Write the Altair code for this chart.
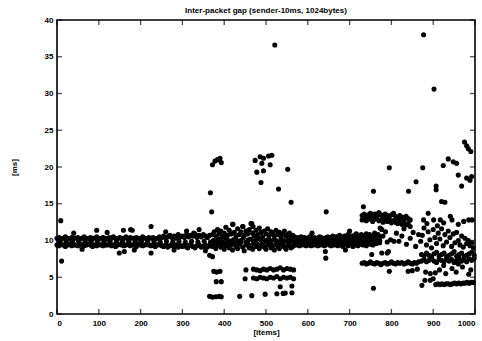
import altair as alt
import pandas as pd

# ---------------- data ----------------
# dense band, packets 0-370 (every 5th packet)
band_a_x = list(range(0, 370, 5))
band_a_lo = [9.4, 9.3, 9.5, 9.4, 9.2, 9.4, 9.5, 9.3, 9.4, 9.4,
             9.3, 9.5, 9.4, 9.3, 9.4, 9.5, 9.4, 9.2, 9.4, 9.3,
             9.5, 9.4, 9.3, 9.4, 9.4, 9.5, 9.3, 9.4, 9.2, 9.4,
             9.5, 9.4, 9.3, 9.4, 9.5, 9.3, 9.4, 9.4, 9.2, 9.5,
             9.4, 9.3, 9.4, 9.5, 9.4, 9.3, 9.4, 9.2, 9.4, 9.5,
             9.3, 9.2, 9.4, 9.1, 9.3, 9.5, 9.2, 9.4, 9.1, 9.3,
             9.2, 9.4, 9.1, 9.3, 9.5, 9.2, 9.0, 9.3, 9.4, 9.1,
             9.2, 9.4, 9.1, 9.3]
band_a_hi = [10.3, 10.4, 10.2, 10.3, 10.5, 10.3, 10.2, 10.4, 10.3, 10.3,
             10.4, 10.2, 10.3, 10.5, 10.3, 10.2, 10.4, 10.3, 10.3, 10.5,
             10.2, 10.3, 10.4, 10.3, 10.2, 10.4, 10.3, 10.5, 10.3, 10.2,
             10.4, 10.3, 10.3, 10.5, 10.2, 10.4, 10.3, 10.3, 10.4, 10.2,
             10.3, 10.5, 10.3, 10.2, 10.4, 10.3, 10.4, 10.2, 10.3, 10.5,
             10.4, 10.6, 10.3, 10.5, 10.7, 10.4, 10.6, 10.3, 10.8, 10.5,
             10.6, 10.4, 10.8, 10.5, 10.7, 10.6, 10.9, 10.4, 10.7, 10.5,
             10.8, 10.6, 10.4, 10.7]
band_a_mid_x = list(range(7, 370, 15))
band_a_mid = [9.8, 9.9, 9.8, 9.9, 9.8, 9.85, 9.9, 9.8, 9.9, 9.8, 9.9, 9.8, 9.85,
              9.9, 9.8, 9.9, 9.8, 9.9, 9.8, 9.9, 9.8, 9.9, 9.8, 9.9, 9.8]
out_a_x = [9, 11, 40, 60, 95, 120, 149, 159, 161, 176, 180, 185, 225, 225,
           260, 280, 310, 313, 327, 340, 355]
out_a_y = [12.7, 7.2, 11.0, 8.8, 11.4, 11.1, 8.3, 11.4, 8.5, 11.5, 11.4, 8.7,
           11.9, 8.3, 11.2, 8.7, 11.3, 9.0, 11.0, 11.5, 8.6]

# scattered cloud, packets 370-570
cloud_b_x = list(range(372, 570, 4))
cloud_b_hi = [10.8, 11.2, 10.6, 11.5, 10.9, 11.3, 10.5, 11.0, 11.8, 10.7,
              11.4, 10.9, 12.2, 11.1, 10.6, 11.6, 10.8, 11.2, 11.9, 10.7,
              11.3, 10.9, 11.5, 12.3, 11.0, 10.6, 11.4, 10.8, 11.7, 11.1,
              10.5, 11.3, 10.9, 11.6, 10.7, 11.2, 11.0, 10.6, 11.4, 10.8,
              11.1, 10.5, 10.9, 11.3, 10.6, 10.8, 11.0, 10.4, 10.7, 10.5]
cloud_b_lo = [9.2, 9.6, 8.9, 9.4, 9.8, 9.1, 9.5, 8.8, 9.3, 9.7,
              9.0, 9.4, 8.7, 9.6, 9.2, 8.9, 9.5, 9.8, 9.1, 8.6,
              9.4, 9.7, 9.0, 9.3, 8.8, 9.6, 9.2, 9.5, 8.9, 9.3,
              9.7, 9.1, 8.8, 9.4, 9.6, 9.0, 9.3, 8.7, 9.5, 9.2,
              8.9, 9.6, 9.4, 9.1, 8.8, 9.3, 9.5, 9.0, 9.2, 9.4]
cloud_b_mid_x = list(range(374, 570, 6))
cloud_b_mid = [10.0, 9.9, 10.2, 10.1, 9.8, 10.3, 10.0, 9.9, 10.1, 10.2,
               9.9, 10.0, 10.4, 9.8, 10.1, 10.2, 9.9, 10.0, 10.3, 10.1,
               9.8, 10.0, 10.2, 9.9, 10.1, 10.0, 9.8, 10.2, 10.0, 9.9,
               10.1, 10.0, 9.9]
row6_x = [375, 382, 390, 452, 470, 478, 486, 494, 502, 510, 518, 526, 534,
          542, 550, 558, 566]
row6_y = [5.8, 5.7, 5.8, 6.0, 6.1, 6.0, 5.9, 6.1, 6.0, 6.2, 6.0, 6.1, 6.3,
          6.0, 6.2, 6.1, 6.0]
row5_x = [381, 393, 450, 470, 478, 486, 494, 502, 510, 518, 526, 534, 542,
          550, 558, 566]
row5_y = [4.4, 4.4, 4.8, 4.9, 4.8, 5.0, 4.9, 4.8, 5.0, 4.9, 5.1, 4.8, 5.0,
          4.9, 5.0, 4.8]
low_b_x = [365, 372, 380, 388, 393, 437, 466, 498, 526, 541, 546, 562, 534,
           562, 365, 372]
low_b_y = [2.4, 2.3, 2.35, 2.4, 2.35, 2.4, 2.5, 2.7, 2.75, 2.8, 2.85, 2.9,
           3.7, 3.8, 8.0, 7.8]
up_b_x = [367, 370, 372, 378, 384, 390, 393, 421, 445, 466, 469, 474, 478,
          486, 488, 490, 494, 494, 506, 510, 514, 521, 530, 552, 560]
up_b_y = [16.5, 13.9, 20.3, 20.8, 21.0, 21.2, 20.6, 12.2, 11.9, 12.3, 11.9,
          20.9, 19.3, 21.4, 17.9, 20.5, 21.2, 19.5, 21.5, 20.3, 21.6, 36.6,
          17.0, 19.7, 15.2]

# dense band, packets 570-775
band_c_x = list(range(572, 775, 4))
band_c_hi = [10.3, 10.4, 10.2, 10.5, 10.3, 10.4, 10.3, 10.2, 10.5, 10.4,
             10.3, 10.4, 10.2, 10.3, 10.5, 10.4, 10.3, 10.2, 10.4, 10.5,
             10.3, 10.4, 10.6, 10.3, 10.5, 10.4, 10.7, 10.5, 10.3, 10.6,
             10.4, 10.8, 10.5, 10.6, 10.4, 10.7, 10.9, 10.5, 10.6, 10.8,
             10.4, 10.7, 10.9, 10.6, 10.8, 10.5, 10.7, 11.0, 10.6, 10.8, 10.5]
band_c_lo = [9.4, 9.5, 9.3, 9.4, 9.6, 9.4, 9.3, 9.5, 9.4, 9.3,
             9.5, 9.4, 9.6, 9.3, 9.4, 9.5, 9.4, 9.3, 9.5, 9.6,
             9.4, 9.3, 9.5, 9.4, 9.6, 9.3, 9.5, 9.4, 9.2, 9.5,
             9.6, 9.3, 9.4, 9.5, 9.2, 9.6, 9.4, 9.3, 9.5, 9.7,
             9.4, 9.6, 9.3, 9.8, 9.5, 9.7, 9.4, 9.9, 9.6, 10.0, 9.7]
band_c_mid = [9.9, 9.8, 9.9, 10.0, 9.8, 9.9, 9.9, 9.8, 10.0, 9.9,
              9.8, 9.9, 10.0, 9.9, 9.8, 9.9, 9.9, 10.0, 9.8, 9.9,
              9.9, 9.8, 10.0, 9.9, 9.9, 9.8, 10.0, 9.9, 9.9, 10.1,
              9.9, 9.8, 10.0, 9.9, 10.1, 9.9, 10.0, 10.2, 9.9, 10.1,
              10.0, 10.2, 9.9, 10.1, 10.3, 10.0, 10.2, 10.1, 10.3, 10.2, 10.0]
out_c_x = [610, 642, 643, 644, 690, 700]
out_c_y = [11.0, 8.5, 7.6, 13.9, 8.7, 11.3]

# right part, packets 730-1000
band_d_x = list(range(730, 850, 5))
band_d_hi = [13.4, 13.6, 13.2, 13.5, 13.7, 13.3, 13.6, 13.4, 13.8, 13.5,
             13.3, 13.6, 13.4, 13.2, 13.5, 13.7, 13.3, 13.1, 13.4, 13.2,
             12.9, 13.3, 13.0, 12.8]
band_d_lo = [12.8, 13.0, 12.7, 12.9, 13.1, 12.6, 12.9, 13.0, 12.7, 12.8,
             12.5, 12.9, 12.6, 12.8, 12.4, 12.7, 12.5, 12.3, 12.6, 12.2,
             12.4, 12.1, 12.3, 11.9]
row7_x = list(range(730, 870, 5))
row7_y = [6.9, 7.0, 6.8, 6.9, 7.1, 6.9, 6.8, 7.0, 6.9, 6.7, 6.9, 7.0, 6.8,
          6.9, 7.1, 6.9, 6.8, 7.0, 6.9, 7.0, 6.8, 6.9, 7.1, 6.9, 6.8, 7.0,
          6.9, 7.1]
row_e_x = list(range(872, 1000, 6))
row_e_lo = [7.2, 7.4, 7.1, 7.3, 7.5, 7.2, 7.0, 7.4, 7.3, 7.1, 7.5, 7.2,
            7.4, 7.0, 7.3, 7.6, 7.2, 7.4, 7.1, 7.5, 7.3, 7.6]
row_e_hi = [8.1, 7.9, 8.3, 8.0, 7.8, 8.2, 8.4, 7.9, 8.1, 8.3, 7.8, 8.0,
            8.2, 8.5, 7.9, 8.1, 8.3, 7.8, 8.0, 8.2, 8.4, 8.0]
row4_x = list(range(906, 1000, 5))
row4_y = [4.0, 4.1, 4.0, 4.1, 4.0, 4.1, 4.1, 4.0, 4.1, 4.2, 4.1, 4.2, 4.1,
          4.2, 4.2, 4.3, 4.2, 4.3, 4.3]
mid_d_x = [780, 786, 790, 798, 806, 812, 818, 825, 830, 836, 845, 852, 858,
           865, 870, 874, 878, 884, 888, 892, 896, 900, 904, 908, 912, 916,
           920, 924, 928, 932, 936, 940, 944, 948, 952, 956, 960, 964, 968,
           972, 976, 980, 984, 988, 992, 996, 790, 777, 753, 793, 777, 773,
           766, 877, 901, 917, 925, 941, 945, 973, 985, 993, 960, 885, 910]
mid_d_y = [10.6, 11.2, 9.8, 10.1, 9.9, 11.0, 9.9, 10.6, 11.6, 9.5, 10.3,
           11.1, 9.2, 10.8, 9.9, 10.7, 11.7, 9.4, 11.2, 10.1, 9.0, 11.5, 10.4,
           9.6, 11.0, 10.2, 11.6, 9.3, 10.8, 9.8, 11.3, 10.4, 9.2, 10.9, 9.7,
           11.1, 10.0, 9.4, 10.6, 9.1, 10.3, 9.6, 10.0, 9.3, 9.7, 9.0, 8.3,
           8.3, 8.1, 8.5, 11.5, 11.7, 10.1, 12.8, 12.8, 12.8, 12.4, 13.3,
           12.8, 12.6, 12.8, 12.8, 12.2, 12.3, 12.0]
low_d_x = [757, 795, 840, 850, 862, 873, 880, 882, 893, 893, 900, 905, 915,
           925, 930, 945, 955, 960, 970, 985, 990]
low_d_y = [3.5, 5.8, 5.8, 5.9, 6.1, 3.9, 4.6, 5.7, 5.5, 4.6, 4.8, 5.6, 6.0,
           6.6, 5.5, 6.2, 5.7, 6.8, 6.4, 5.4, 6.0]
up_d_x = [733, 757, 795, 841, 859, 875, 877, 888, 902, 907, 907, 920, 924,
          928, 936, 948, 956, 960, 968, 975, 980, 980, 984, 988, 990, 992]
up_d_y = [14.6, 16.7, 19.9, 16.7, 18.0, 19.9, 38.0, 13.7, 30.6, 17.4, 16.9,
          15.3, 20.2, 15.2, 21.1, 20.7, 20.5, 18.9, 17.4, 23.4, 22.9, 18.5,
          22.5, 18.2, 22.1, 18.7]

x_ticks = [0, 100, 200, 300, 400, 500, 600, 700, 800, 900, 1000]
y_ticks = [0, 5, 10, 15, 20, 25, 30, 35, 40]

pairs = [
    (band_a_x, band_a_lo), (band_a_x, band_a_hi), (band_a_mid_x, band_a_mid),
    (out_a_x, out_a_y), (cloud_b_x, cloud_b_hi), (cloud_b_x, cloud_b_lo),
    (cloud_b_mid_x, cloud_b_mid), (row6_x, row6_y), (row5_x, row5_y),
    (low_b_x, low_b_y), (up_b_x, up_b_y), (band_c_x, band_c_hi),
    (band_c_x, band_c_lo), (band_c_x, band_c_mid), (out_c_x, out_c_y),
    (band_d_x, band_d_hi), (band_d_x, band_d_lo), (row7_x, row7_y),
    (row_e_x, row_e_lo), (row_e_x, row_e_hi), (row4_x, row4_y),
    (mid_d_x, mid_d_y), (low_d_x, low_d_y), (up_d_x, up_d_y),
]
rows = []
for xs_, ys_ in pairs:
    rows.extend(zip(xs_, ys_))
df = pd.DataFrame(rows, columns=["item", "gap"])
xt_df = pd.DataFrame({"item": x_ticks})
yt_df = pd.DataFrame({"gap": y_ticks})

# ---------------- chart ----------------
W, H = 418, 294
FONT = "Liberation Sans"
xscale = alt.Scale(domain=[0, 1000], nice=False, zero=False)
yscale = alt.Scale(domain=[0, 40], nice=False, zero=False)

lab = dict(labelFont=FONT, labelFontWeight="bold", labelFontSize=8,
           labelColor="black", titleFont=FONT, titleFontWeight="bold",
           titleFontSize=8, titleColor="black", grid=False, domain=False,
           ticks=False, tickSize=0, labelOverlap=False)

main = alt.Chart(df).mark_circle(size=26, color="black", opacity=1).encode(
    x=alt.X("item:Q", scale=xscale,
            axis=alt.Axis(values=x_ticks, format="d", labelPadding=5,
                          title="[items]", titlePadding=1, **lab)),
    y=alt.Y("gap:Q", scale=yscale,
            axis=alt.Axis(values=y_ticks, format="d", labelPadding=4,
                          title="[ms]", titlePadding=26, **lab)),
)

# inward tick marks on all four sides of the frame
TL = 5
xt = alt.Chart(xt_df).mark_tick(orient="vertical", size=TL, thickness=1.3,
                                color="black")
yt = alt.Chart(yt_df).mark_tick(orient="horizontal", size=TL, thickness=1.3,
                                color="black")
x_bottom = xt.encode(x=alt.X("item:Q", scale=xscale, axis=None),
                     y=alt.value(H - TL / 2))
x_top = xt.encode(x=alt.X("item:Q", scale=xscale, axis=None),
                  y=alt.value(TL / 2))
y_left = yt.encode(y=alt.Y("gap:Q", scale=yscale, axis=None),
                   x=alt.value(TL / 2))
y_right = yt.encode(y=alt.Y("gap:Q", scale=yscale, axis=None),
                    x=alt.value(W - TL / 2))

chart = alt.layer(main, x_bottom, x_top, y_left, y_right).resolve_axis(
    x="independent", y="independent"
).properties(
    width=W, height=H,
    autosize=alt.AutoSizeParams(type="none"),
    padding={"left": 57, "top": 20, "right": 7, "bottom": 27},
    title=alt.TitleParams("Inter-packet gap (sender-10ms, 1024bytes)",
                          font=FONT, fontSize=8, fontWeight="bold",
                          color="black", anchor="middle", offset=1),
    background="white",
).configure_view(stroke="black", strokeWidth=1.6)

chart.save("out.html", embed_options={"renderer": "svg", "actions": False})
